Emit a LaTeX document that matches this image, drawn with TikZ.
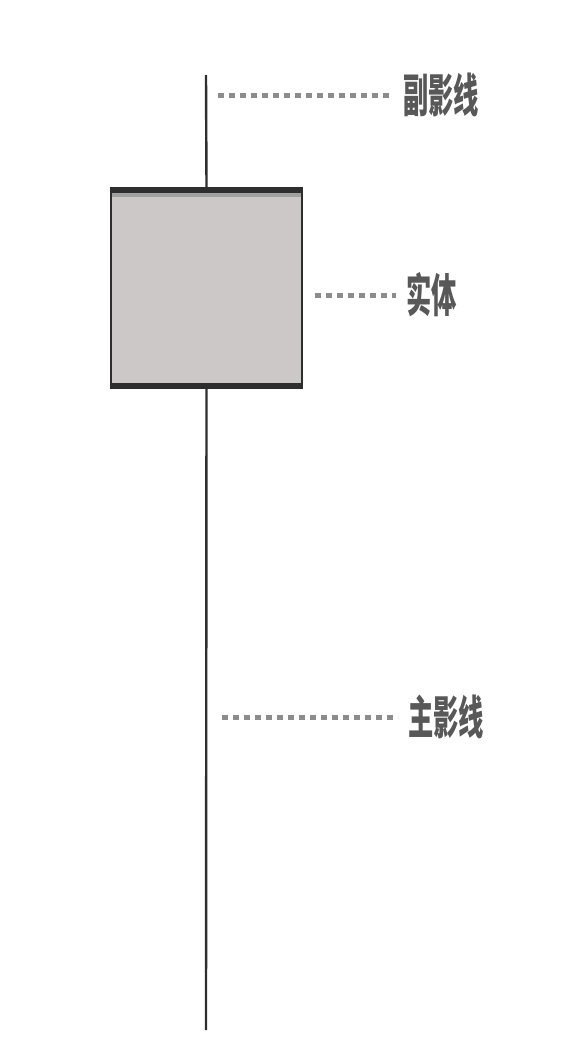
\documentclass[tikz,border=0pt]{standalone}
\usepackage{fontspec}
\newfontfamily\cjk{Noto Sans CJK SC}
\usetikzlibrary{positioning}

\definecolor{bodyfill}{HTML}{CDC8C8}
\definecolor{dotgray}{HTML}{8C8C8C}
\definecolor{inkgray}{HTML}{2E2E2E}

\begin{document}
\begin{tikzpicture}[
    x=1pt, y=-1pt,
    wick/.style={draw=inkgray, line width=2.4pt},
    body/.style={draw=inkgray, line width=1.4pt, fill=bodyfill, minimum width=191pt, minimum height=201pt, inner sep=0pt},
    guide/.style={draw=dotgray, line width=5pt, dash pattern=on 6pt off 5pt, shorten >=10pt},
    tag/.style={font=\cjk\bfseries\fontsize{46}{46}\selectfont, text=inkgray!80, xscale=0.55, inner sep=0pt, anchor=west}
]
\useasboundingbox (0,0) rectangle (568,1050);

% candle
\coordinate (top) at (206,75);
\coordinate (bottom) at (206,1030);
\node[body] (box) at (206.5,288) {};
\draw[wick] (top) -- (box.north);
\draw[wick] (box.south) -- (bottom);
\draw[draw=inkgray, line width=6pt] ([yshift=-3pt]box.north west) -- ([yshift=-3pt]box.north east);
\draw[draw=inkgray!45, line width=4pt] ([xshift=2pt,yshift=-8pt]box.north west) -- ([xshift=-2pt,yshift=-8pt]box.north east);
\draw[draw=inkgray, line width=6pt] ([yshift=3pt]box.south west) -- ([yshift=3pt]box.south east);

% labels
\node[tag] (upper) at (403,95) {副影线};
\node[tag] (real) at (406,295) {实体};
\node[tag] (lower) at (408,717) {主影线};

\coordinate (uppers) at (218,95);
\coordinate (reals) at (315,295);
\coordinate (lowers) at (222,717);
\draw[guide] (uppers) -- (upper.west);
\draw[guide] (reals) -- (real.west);
\draw[guide] (lowers) -- (lower.west);
\end{tikzpicture}
\end{document}
